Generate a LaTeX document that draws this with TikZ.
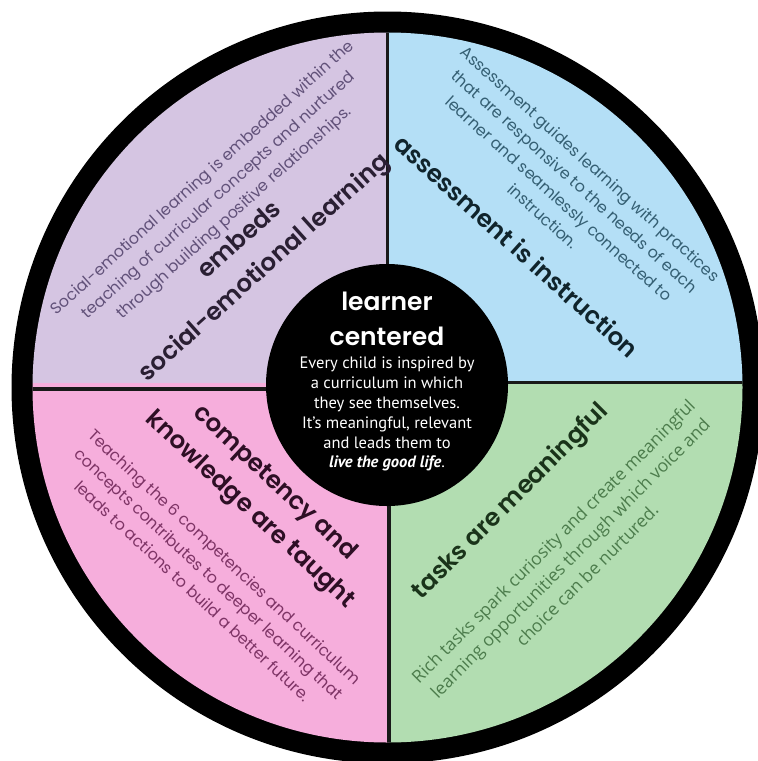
\documentclass[tikz,border=0pt]{standalone}
\usepackage{fontspec}
\setmainfont{Open Sans}
\newfontfamily\headfont{Poppins}[BoldFont={Poppins SemiBold}]
\newfontfamily\descfont{Poppins}
\newfontfamily\greenfont{Open Sans}
\newfontfamily\centerfont{PT Sans}
\definecolor{qpurple}{HTML}{D5C5E2}
\definecolor{qblue}{HTML}{B4DFF6}
\definecolor{qgreen}{HTML}{B2DDB1}
\definecolor{qpink}{HTML}{F6AEDC}
\definecolor{tpurple}{HTML}{62527A}
\definecolor{hpurple}{HTML}{2A1F33}
\definecolor{tblue}{HTML}{355F73}
\definecolor{hblue}{HTML}{10242C}
\definecolor{tgreen}{HTML}{4C7C4C}
\definecolor{hgreen}{HTML}{1A331A}
\definecolor{tpink}{HTML}{7E3466}
\definecolor{hpink}{HTML}{2E0F25}
\begin{document}
\begin{tikzpicture}[x=1pt,y=-1pt,
  divline/.style={draw=black!90,line width=3.5pt},
  desc/.style={align=center,inner sep=0pt,font=\descfont\fontsize{16}{23.5}\selectfont},
  head/.style={align=center,inner sep=0pt,font=\headfont\bfseries\fontsize{24.5}{37}\selectfont},
  ctitle/.style={anchor=base,inner sep=0pt,text=white,font=\headfont\bfseries\fontsize{25}{28}\selectfont},
  cbody/.style={anchor=base,inner sep=0pt,text=white,font=\centerfont\fontsize{16.5}{19}\selectfont}]
\useasboundingbox (0,0) rectangle (758,761);
\clip (0,0) rectangle (758,761);
\fill[white] (0,0) rectangle (758,761);
\coordinate (c) at (387.5,387.5);
\fill[black] (c) circle[radius=376];
\begin{scope}
  \clip (c) circle[radius=355];
  \fill[qpurple] (0,0) rectangle (387.5,383);
  \fill[qpink] (0,383) rectangle (389,761);
  \fill[qblue] (387.5,0) rectangle (758,382);
  \fill[qgreen] (389,382) rectangle (758,761);
  \draw[divline] (0,389) -- (389,389);
  \draw[divline,line width=3pt] (387,382) -- (758,382);
  \draw[divline] (387.5,0) -- (387.5,389);
  \draw[divline] (389,382) -- (389,761);
\end{scope}
% centre
\fill[black] (387,385) circle[radius=121];
\node[ctitle] (t1) at (387,310) {learner};
\node[ctitle] (t2) at (387,345) {centered};
\node[cbody] (b1) at (387,368) {Every child is inspired by};
\node[cbody] (b2) at (387,388) {a curriculum in which};
\node[cbody] (b3) at (387,408) {they see themselves.};
\node[cbody] (b4) at (387,428) {It’s meaningful, relevant};
\node[cbody] (b5) at (387,448) {and leads them to};
\node[cbody] (b6) at (387,467) {\textbf{\textit{live the good life}}.};
% purple
\node[desc,text=tpurple,rotate=42] (pd) at (219,196) {Social-emotional learning is embedded within the\\teaching of curricular concepts and nurtured\\through building positive relationships.};
\node[head,text=hpurple,rotate=42] (ph) at (253,255) {embeds\\social-emotional learning};
% blue
\node[desc,text=tblue,rotate=-42] (bd) at (567,190) {Assessment guides learning with practices\\that are responsive to the needs of each\\learner and seamlessly connected to\\instruction.};
\node[head,text=hblue,rotate=-42] (bh) at (517,246) {assessment is instruction};
% green
\node[desc,font=\greenfont\fontsize{17.5}{24}\selectfont,text=tgreen,rotate=45] (gd) at (570,558) {Rich tasks spark curiosity and create meaningful\\learning opportunities through which voice and\\choice can be nurtured.};
\node[head,text=hgreen,rotate=45] (gh) at (511,502) {tasks are meaningful};
% pink
\node[desc,text=tpink,rotate=-43] (kd) at (209,574) {Teaching the 6 competencies and curriculum\\concepts contributes to deeper learning that\\leads to actions to build a better future.};
\node[head,text=hpink,rotate=-43] (kh) at (262,497) {competency and\\knowledge are taught};
\end{tikzpicture}
\end{document}
